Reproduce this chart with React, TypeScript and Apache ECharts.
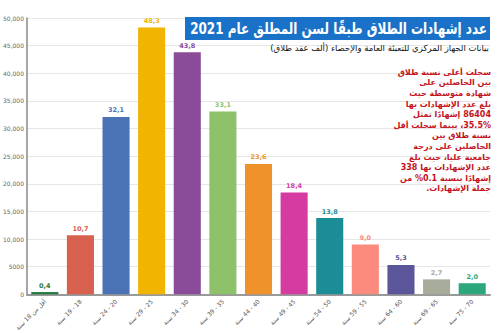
import React, { useEffect, useRef } from "react";
import * as echarts from "echarts";

const categories = [
  "أقل من 18 سنة",
  "18 - 19 سنة",
  "20 - 24 سنة",
  "25 - 29 سنة",
  "30 - 34 سنة",
  "35 - 39 سنة",
  "40 - 44 سنة",
  "45 - 49 سنة",
  "50 - 54 سنة",
  "55 - 59 سنة",
  "60 - 64 سنة",
  "65 - 69 سنة",
  "70 - 75 سنة",
];
const valuesThousands = [0.4, 10.7, 32.1, 48.3, 43.8, 33.1, 23.6, 18.4, 13.8, 9.0, 5.3, 2.7, 2.0];
const barColors = [
  "#1f7a3f", "#d8604f", "#4a73b6", "#f1b400", "#8a4b99", "#8dc26b", "#f0922b",
  "#d53ba1", "#1a8d97", "#fa8a7c", "#5a5699", "#a8ac9b", "#2ba77b",
];
const titleText = "عدد إشهادات الطلاق طبقًا لسن المطلق عام 2021";
const subtitleText = "بيانات الجهاز المركزي للتعبئة العامة والإحصاء (ألف عقد طلاق)";
const noteLines = [
  "سجلت أعلى نسبة طلاق",
  "بين الحاصلين على",
  "شهادة متوسطة حيث",
  "بلغ عدد الإشهادات بها",
  "86404 إشهادًا تمثل",
  "35.5%، بينما سجلت أقل",
  "نسبة طلاق بين",
  "الحاصلين على درجة",
  "جامعية عليا، حيث بلغ",
  "عدد الإشهادات بها 338",
  "إشهادًا بنسبة 0.1% من",
  "جملة الإشهادات.",
];

const rtl = (s: string) => "\u202B" + s + "\u202C";

export default function App() {
  const ref = useRef<HTMLDivElement>(null);
  useEffect(() => {
    if (!ref.current) return;
    const chart = echarts.init(ref.current, undefined, { renderer: "svg" });
    const data = valuesThousands.map((v, i) => ({
      value: v * 1000,
      itemStyle: { color: barColors[i] },
      label: { color: barColors[i] },
    }));
    chart.setOption({
      animation: false,
      backgroundColor: "#ffffff",
      grid: { left: 27, right: 10, top: 18, bottom: 35 },
      xAxis: {
        type: "category",
        data: categories,
        axisLine: { lineStyle: { color: "#999", width: 2 } },
        axisTick: { show: false },
        axisLabel: {
          rotate: 45,
          fontSize: 6,
          color: "#555",
          interval: 0,
          fontFamily: "DejaVu Sans",
          margin: 6,
          formatter: (v: string) => rtl(v),
        },
      },
      yAxis: {
        type: "value",
        min: 0,
        max: 50000,
        interval: 5000,
        axisLine: { show: true, lineStyle: { color: "#888", width: 1.5 } },
        axisTick: { show: false },
        splitLine: { lineStyle: { color: "#e6e6e6" } },
        axisLabel: {
          fontSize: 6,
          color: "#666",
          margin: 3,
          fontFamily: "DejaVu Sans",
          formatter: (v: number) => (v >= 10000 ? v.toLocaleString("en-US") : String(v)),
        },
      },
      series: [
        {
          type: "bar",
          data,
          barCategoryGap: "24%",
          label: {
            show: true,
            position: "top",
            fontSize: 6.5,
            fontWeight: "bold",
            distance: 3,
            fontFamily: "DejaVu Sans",
            formatter: (p: any) => (p.value / 1000).toFixed(1).replace(".", ","),
          },
        },
      ],
      graphic: [
        {
          type: "rect",
          shape: { x: 185, y: 17, width: 305, height: 23 },
          style: { fill: "#1a72c8" },
          z: 10,
        },
        {
          type: "text",
          x: 487,
          y: 28.5,
          scaleX: 0.75,
          z: 11,
          style: {
            text: rtl(titleText),
            fill: "#ffffff",
            fontSize: 16,
            fontWeight: "bold",
            fontFamily: "DejaVu Sans",
            align: "right",
            verticalAlign: "middle",
          },
        },
        {
          type: "text",
          x: 489,
          y: 48,
          z: 11,
          style: {
            text: rtl(subtitleText),
            fill: "#111",
            fontSize: 8.5,
            fontFamily: "DejaVu Sans",
            align: "right",
            verticalAlign: "middle",
          },
        },
        {
          type: "text",
          x: 491,
          y: 67,
          z: 11,
          style: {
            text: noteLines.map(rtl).join("\n"),
            fill: "#c4121c",
            fontSize: 8,
            fontWeight: "bold",
            lineHeight: 10.6,
            fontFamily: "DejaVu Sans",
            align: "right",
            verticalAlign: "top",
          },
        },
      ],
    });
    return () => chart.dispose();
  }, []);
  return (
    <div
      ref={ref}
      style={{ position: "fixed", left: 0, top: 0, width: 500, height: 333 }}
    />
  );
}
